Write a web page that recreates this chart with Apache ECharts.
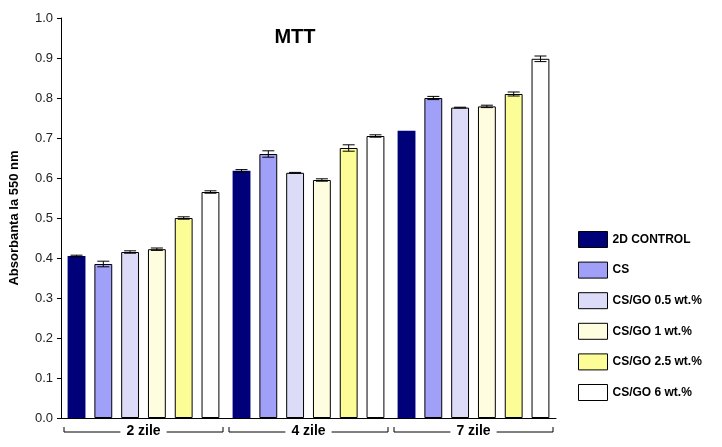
<!DOCTYPE html>
<html><head><meta charset="utf-8">
<script src="https://cdn.jsdelivr.net/npm/echarts@6/dist/echarts.min.js"></script>
<style>html,body{margin:0;background:#fff}#c{width:722px;height:447px}</style>
</head><body><div id="c"></div>
<script>
const categories = ['2 zile', '4 zile', '7 zile'];
const seriesNames = ['2D CONTROL', 'CS', 'CS/GO 0.5 wt.%', 'CS/GO 1 wt.%', 'CS/GO 2.5 wt.%', 'CS/GO 6 wt.%'];
const control2D = [0.405, 0.618, 0.718];
const cs = [0.385, 0.660, 0.800];
const csgo05 = [0.415, 0.613, 0.776];
const csgo1 = [0.422, 0.595, 0.779];
const csgo25 = [0.500, 0.675, 0.810];
const csgo6 = [0.565, 0.705, 0.898];
const err2D = [0.002, 0.003, 0.000];
const errCS = [0.007, 0.008, 0.004];
const err05 = [0.003, 0.001, 0.001];
const err1 = [0.003, 0.003, 0.003];
const err25 = [0.003, 0.008, 0.005];
const err6 = [0.003, 0.003, 0.007];
const yTicks = [0, 0.1, 0.2, 0.3, 0.4, 0.5, 0.6, 0.7, 0.8, 0.9, 1.0];

const values = [control2D, cs, csgo05, csgo1, csgo25, csgo6];
const errs = [err2D, errCS, err05, err1, err25, err6];
const colors = ['#000078', '#a0a0f8', '#dcdcf8', '#fffde0', '#fdfd98', '#ffffff'];
const N = 6, catGap = 0.08, barGap = 0.5;

const chart = echarts.init(document.getElementById('c'));
const series = [];
values.forEach((v, i) => {
  series.push({
    name: seriesNames[i], type: 'bar', data: v,
    barGap: '50%', barCategoryGap: '8%',
    itemStyle: { color: colors[i], borderColor: '#000', borderWidth: i === 0 ? 0 : 1 }
  });
});
values.forEach((v, i) => {
  series.push({
    type: 'custom', silent: true, z: 10,
    data: v.map((y, k) => [k, y, errs[i][k]]),
    renderItem: (params, api) => {
      const band = api.size([1, 0])[0];
      const inner = band * (1 - catGap);
      const bw = inner / (N + (N - 1) * barGap);
      const c = api.coord([api.value(0), api.value(1)]);
      const x = c[0] - inner / 2 + i * bw * (1 + barGap) + bw / 2;
      const e = api.value(2);
      if (!e) return null;
      const top = api.coord([api.value(0), api.value(1) + e])[1];
      const bot = api.coord([api.value(0), api.value(1) - e])[1];
      const w = 6, st = { stroke: '#000', lineWidth: 1 };
      return { type: 'group', children: [
        { type: 'line', shape: { x1: x, y1: top, x2: x, y2: bot }, style: st },
        { type: 'line', shape: { x1: x - w, y1: top, x2: x + w, y2: top }, style: st },
        { type: 'line', shape: { x1: x - w, y1: bot, x2: x + w, y2: bot }, style: st }
      ]};
    }
  });
});

chart.setOption({
  animation: false,
  title: { text: 'MTT', left: 290, top: 22, textAlign: 'center',
    textStyle: { fontFamily: 'Liberation Sans', fontSize: 20, fontWeight: 'bold', color: '#000' } },
  grid: { left: 55, right: 166, top: 18, bottom: 29 },
  legend: {
    orient: 'vertical', left: 573, top: 226, itemGap: 13.6, itemWidth: 29, itemHeight: 16,
    data: seriesNames.map(n => ({ name: n, icon: 'rect' })),
    textStyle: { fontFamily: 'Liberation Sans', fontWeight: 'bold', fontSize: 12, color: '#000' },
    itemStyle: { borderColor: '#000', borderWidth: 1 }
  },
  xAxis: {
    type: 'category', data: categories,
    axisLine: { lineStyle: { color: '#000' } }, axisTick: { show: false },
    axisLabel: { margin: 6, color: '#000', fontFamily: 'Liberation Sans', fontWeight: 'bold', fontSize: 14,
      backgroundColor: '#fff', padding: [0, 6] }
  },
  yAxis: {
    type: 'value', min: 0, max: 1, interval: 0.1,
    name: 'Absorbanta la 550 nm', nameLocation: 'middle', nameGap: 40,
    nameTextStyle: { fontFamily: 'Liberation Sans', fontWeight: 'bold', fontSize: 13, color: '#000' },
    axisLine: { show: true, lineStyle: { color: '#000' } },
    axisTick: { show: true, length: 4 }, splitLine: { show: false },
    axisLabel: { color: '#222', fontFamily: 'Liberation Sans', fontSize: 13,
      formatter: v => yTicks.includes(Math.round(v * 10) / 10) ? v.toFixed(1) : '' }
  },
  series
});

const g = [];
categories.forEach((c, k) => {
  const p0 = chart.convertToPixel({ xAxisIndex: 0 }, k);
  const band = chart.convertToPixel({ xAxisIndex: 0 }, 1) - chart.convertToPixel({ xAxisIndex: 0 }, 0);
  const x1 = p0 - band / 2 + 3, x2 = p0 + band / 2 - 3;
  const y = chart.convertToPixel({ yAxisIndex: 0 }, 0) + 14;
  g.push({ type: 'polyline', z: 0, shape: { points: [[x1, y - 5], [x1, y], [x2, y], [x2, y - 5]] }, style: { stroke: '#000', fill: null, lineWidth: 1 } });
});
chart.setOption({ graphic: g });
</script></body></html>
